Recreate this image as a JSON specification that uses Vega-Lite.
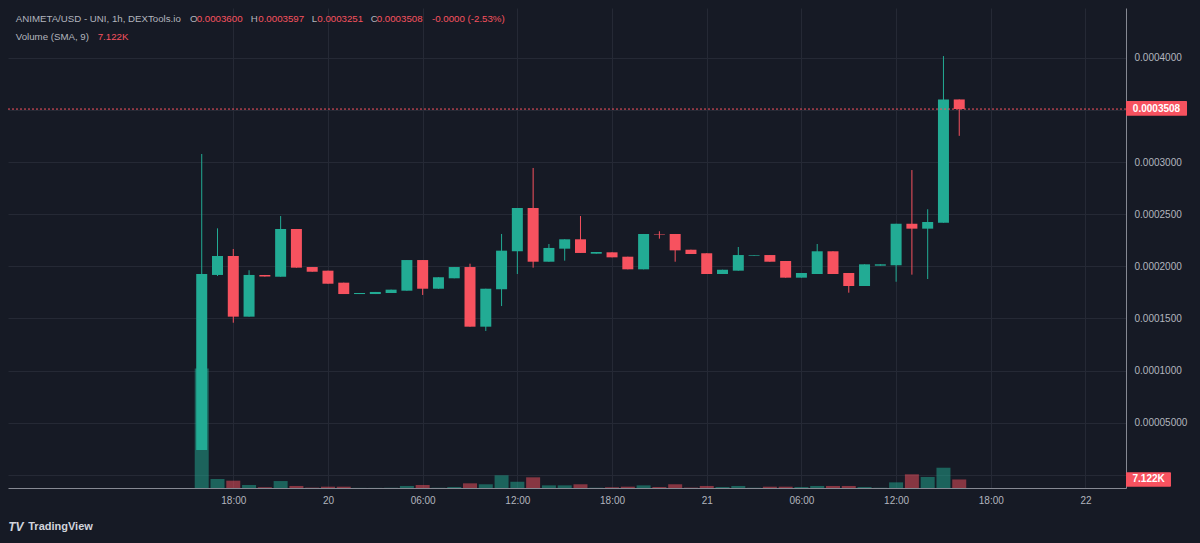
{
  "$schema": "https://vega.github.io/schema/vega-lite/v6.json",
  "width": 1118,
  "height": 480,
  "autosize": {"type": "none"},
  "padding": {"left": 8, "top": 8, "right": 74, "bottom": 55},
  "background": "#161a25",
  "config": {
    "view": {"stroke": null},
    "scale": {"continuousPadding": 0},
    "axis": {"labelFont": "Liberation Sans", "labelFontSize": 10, "labelColor": "#b2b5be", "gridColor": "#252935", "gridWidth": 1, "domainColor": "#868993", "domainWidth": 1, "ticks": false},
    "text": {"font": "Liberation Sans"}
  },
  "datasets": {
    "candles": [
      {"t": "2023-11-19T16:00:00Z", "o": 0.0000239, "h": 0.0003077, "l": 0.0000239, "c": 0.0001926, "v": 99500},
      {"t": "2023-11-19T17:00:00Z", "o": 0.0001917, "h": 0.0002364, "l": 0.0001907, "c": 0.0002099, "v": 7500},
      {"t": "2023-11-19T18:00:00Z", "o": 0.0002099, "h": 0.0002166, "l": 0.0001459, "c": 0.0001517, "v": 6100},
      {"t": "2023-11-19T19:00:00Z", "o": 0.0001517, "h": 0.0001962, "l": 0.0001517, "c": 0.0001917, "v": 2500},
      {"t": "2023-11-19T20:00:00Z", "o": 0.0001917, "h": 0.0001917, "l": 0.0001902, "c": 0.0001902, "v": 600},
      {"t": "2023-11-19T21:00:00Z", "o": 0.0001900, "h": 0.0002482, "l": 0.0001900, "c": 0.0002358, "v": 5800},
      {"t": "2023-11-19T22:00:00Z", "o": 0.0002358, "h": 0.0002358, "l": 0.0001987, "c": 0.0001987, "v": 1700},
      {"t": "2023-11-19T23:00:00Z", "o": 0.0001993, "h": 0.0001993, "l": 0.0001948, "c": 0.0001948, "v": 300},
      {"t": "2023-11-20T00:00:00Z", "o": 0.0001958, "h": 0.0001958, "l": 0.0001833, "c": 0.0001833, "v": 1100},
      {"t": "2023-11-20T01:00:00Z", "o": 0.0001843, "h": 0.0001843, "l": 0.0001734, "c": 0.0001734, "v": 1100},
      {"t": "2023-11-20T02:00:00Z", "o": 0.0001734, "h": 0.0001744, "l": 0.0001734, "c": 0.0001744, "v": 100},
      {"t": "2023-11-20T03:00:00Z", "o": 0.0001734, "h": 0.0001754, "l": 0.0001734, "c": 0.0001754, "v": 100},
      {"t": "2023-11-20T04:00:00Z", "o": 0.0001744, "h": 0.0001776, "l": 0.0001744, "c": 0.0001776, "v": 200},
      {"t": "2023-11-20T05:00:00Z", "o": 0.0001766, "h": 0.0002060, "l": 0.0001766, "c": 0.0002060, "v": 1700},
      {"t": "2023-11-20T06:00:00Z", "o": 0.0002060, "h": 0.0002060, "l": 0.0001725, "c": 0.0001785, "v": 2500},
      {"t": "2023-11-20T07:00:00Z", "o": 0.0001785, "h": 0.0001895, "l": 0.0001785, "c": 0.0001895, "v": 200},
      {"t": "2023-11-20T08:00:00Z", "o": 0.0001885, "h": 0.0001993, "l": 0.0001885, "c": 0.0001993, "v": 800},
      {"t": "2023-11-20T09:00:00Z", "o": 0.0001993, "h": 0.0002025, "l": 0.0001421, "c": 0.0001421, "v": 3900},
      {"t": "2023-11-20T10:00:00Z", "o": 0.0001421, "h": 0.0001785, "l": 0.0001380, "c": 0.0001785, "v": 3100},
      {"t": "2023-11-20T11:00:00Z", "o": 0.0001780, "h": 0.0002310, "l": 0.0001619, "c": 0.0002150, "v": 10600},
      {"t": "2023-11-20T12:00:00Z", "o": 0.0002144, "h": 0.0002559, "l": 0.0001926, "c": 0.0002559, "v": 5300},
      {"t": "2023-11-20T13:00:00Z", "o": 0.0002559, "h": 0.0002943, "l": 0.0001987, "c": 0.0002044, "v": 8900},
      {"t": "2023-11-20T14:00:00Z", "o": 0.0002044, "h": 0.0002214, "l": 0.0002044, "c": 0.0002176, "v": 2200},
      {"t": "2023-11-20T15:00:00Z", "o": 0.0002169, "h": 0.0002259, "l": 0.0002054, "c": 0.0002259, "v": 2200},
      {"t": "2023-11-20T16:00:00Z", "o": 0.0002259, "h": 0.0002482, "l": 0.0002128, "c": 0.0002128, "v": 3100},
      {"t": "2023-11-20T17:00:00Z", "o": 0.0002121, "h": 0.0002137, "l": 0.0002121, "c": 0.0002137, "v": 200},
      {"t": "2023-11-20T18:00:00Z", "o": 0.0002134, "h": 0.0002134, "l": 0.0002086, "c": 0.0002086, "v": 600},
      {"t": "2023-11-20T19:00:00Z", "o": 0.0002092, "h": 0.0002092, "l": 0.0001971, "c": 0.0001971, "v": 1100},
      {"t": "2023-11-20T20:00:00Z", "o": 0.0001971, "h": 0.0002310, "l": 0.0001971, "c": 0.0002310, "v": 2200},
      {"t": "2023-11-20T21:00:00Z", "o": 0.0002310, "h": 0.0002336, "l": 0.0002265, "c": 0.0002305, "v": 800},
      {"t": "2023-11-20T22:00:00Z", "o": 0.0002310, "h": 0.0002310, "l": 0.0002044, "c": 0.0002153, "v": 3100},
      {"t": "2023-11-20T23:00:00Z", "o": 0.0002159, "h": 0.0002159, "l": 0.0002118, "c": 0.0002118, "v": 300},
      {"t": "2023-11-21T00:00:00Z", "o": 0.0002125, "h": 0.0002125, "l": 0.0001926, "c": 0.0001926, "v": 1700},
      {"t": "2023-11-21T01:00:00Z", "o": 0.0001926, "h": 0.0001967, "l": 0.0001926, "c": 0.0001967, "v": 800},
      {"t": "2023-11-21T02:00:00Z", "o": 0.0001958, "h": 0.0002185, "l": 0.0001958, "c": 0.0002108, "v": 1700},
      {"t": "2023-11-21T03:00:00Z", "o": 0.0002102, "h": 0.0002108, "l": 0.0002102, "c": 0.0002108, "v": 200},
      {"t": "2023-11-21T04:00:00Z", "o": 0.0002108, "h": 0.0002108, "l": 0.0002044, "c": 0.0002044, "v": 1100},
      {"t": "2023-11-21T05:00:00Z", "o": 0.0002051, "h": 0.0002051, "l": 0.0001891, "c": 0.0001891, "v": 1100},
      {"t": "2023-11-21T06:00:00Z", "o": 0.0001891, "h": 0.0001936, "l": 0.0001891, "c": 0.0001936, "v": 800},
      {"t": "2023-11-21T07:00:00Z", "o": 0.0001926, "h": 0.0002214, "l": 0.0001926, "c": 0.0002144, "v": 1700},
      {"t": "2023-11-21T08:00:00Z", "o": 0.0002144, "h": 0.0002144, "l": 0.0001926, "c": 0.0001926, "v": 1700},
      {"t": "2023-11-21T09:00:00Z", "o": 0.0001936, "h": 0.0001936, "l": 0.0001747, "c": 0.0001811, "v": 1700},
      {"t": "2023-11-21T10:00:00Z", "o": 0.0001811, "h": 0.0002019, "l": 0.0001811, "c": 0.0002019, "v": 800},
      {"t": "2023-11-21T11:00:00Z", "o": 0.0002006, "h": 0.0002019, "l": 0.0002006, "c": 0.0002019, "v": 200},
      {"t": "2023-11-21T12:00:00Z", "o": 0.0002010, "h": 0.0002408, "l": 0.0001852, "c": 0.0002408, "v": 4700},
      {"t": "2023-11-21T13:00:00Z", "o": 0.0002408, "h": 0.0002923, "l": 0.0001920, "c": 0.0002361, "v": 11400},
      {"t": "2023-11-21T14:00:00Z", "o": 0.0002361, "h": 0.0002547, "l": 0.0001878, "c": 0.0002425, "v": 9200},
      {"t": "2023-11-21T15:00:00Z", "o": 0.0002418, "h": 0.0004016, "l": 0.0002418, "c": 0.0003600, "v": 16900},
      {"t": "2023-11-21T16:00:00Z", "o": 0.0003600, "h": 0.0003600, "l": 0.0003251, "c": 0.0003508, "v": 7122}
    ],
    "legend": [
      {"t": "2023-11-19T04:13:00Z", "p": 0.0004371, "text": "ANIMETA/USD - UNI, 1h, DEXTools.io", "kind": "label"},
      {"t": "2023-11-19T15:15:30Z", "p": 0.0004371, "text": "O", "kind": "label"},
      {"t": "2023-11-19T15:41:00Z", "p": 0.0004371, "text": "0.0003600", "kind": "value"},
      {"t": "2023-11-19T19:06:00Z", "p": 0.0004371, "text": "H", "kind": "label"},
      {"t": "2023-11-19T19:35:00Z", "p": 0.0004371, "text": "0.0003597", "kind": "value"},
      {"t": "2023-11-19T22:58:00Z", "p": 0.0004371, "text": "L", "kind": "label"},
      {"t": "2023-11-19T23:19:30Z", "p": 0.0004371, "text": "0.0003251", "kind": "value"},
      {"t": "2023-11-20T02:42:30Z", "p": 0.0004371, "text": "C", "kind": "label"},
      {"t": "2023-11-20T03:05:30Z", "p": 0.0004371, "text": "0.0003508", "kind": "value"},
      {"t": "2023-11-20T06:35:30Z", "p": 0.0004371, "text": "-0.0000 (-2.53%)", "kind": "value"},
      {"t": "2023-11-19T04:13:00Z", "p": 0.0004198, "text": "Volume (SMA, 9)", "kind": "label"},
      {"t": "2023-11-19T09:24:30Z", "p": 0.0004198, "text": "7.122K", "kind": "value"},
      {"t": "2023-11-19T05:00:30Z", "p": -0.00004995, "text": "TradingView", "kind": "brand"},
      {"t": "2023-11-19T03:44:00Z", "p": -0.00004995, "text": "TV", "kind": "logo"}
    ],
    "tags": [
      {"t": "2023-11-22T02:34:00Z", "t2": "2023-11-22T06:26:00Z", "tc": "2023-11-22T04:30:00Z", "hi": 0.0003585, "lo": 0.0003444, "p": 0.0003508, "text": "0.0003508"},
      {"t": "2023-11-22T02:34:00Z", "t2": "2023-11-22T05:25:00Z", "tc": "2023-11-22T04:00:00Z", "hi": 0.0000025, "lo": -0.0000113, "p": -0.0000044, "text": "7.122K"}
    ],
    "one": [{"p": 0.0003508}]
  },
  "layer": [
    {
      "data": {"name": "candles"},
      "mark": {"type": "bar", "size": 14, "opacity": 0.5},
      "encoding": {
        "x": {"field": "t", "type": "temporal", "title": null, "scale": {"type": "utc", "padding": 0, "domain": [{"year": 2023, "month": 11, "date": 19, "hours": 3, "minutes": 43, "seconds": 30, "utc": true}, {"year": 2023, "month": 11, "date": 22, "hours": 2, "minutes": 34, "utc": true}]}},
        "y": {"field": "v", "type": "quantitative", "title": null, "scale": {"domain": [0, 400000], "nice": false, "zero": true}, "axis": null},
        "color": {"condition": {"test": "datum.c >= datum.o", "value": "#22ab94"}, "value": "#f7525f"}
      }
    },
    {
      "data": {"name": "candles"},
      "mark": {"type": "rule", "strokeWidth": 1},
      "encoding": {
        "x": {"field": "t", "type": "temporal", "title": null, "scale": {"type": "utc", "padding": 0, "domain": [{"year": 2023, "month": 11, "date": 19, "hours": 3, "minutes": 43, "seconds": 30, "utc": true}, {"year": 2023, "month": 11, "date": 22, "hours": 2, "minutes": 34, "utc": true}]}},
        "y": {"field": "l", "type": "quantitative", "scale": {"domain": [-0.0000126, 0.0004477], "nice": false, "zero": false}, "axis": null},
        "y2": {"field": "h"},
        "color": {"condition": {"test": "datum.c >= datum.o", "value": "#22ab94"}, "value": "#f7525f"}
      }
    },
    {
      "data": {"name": "candles"},
      "mark": {"type": "bar", "size": 11},
      "encoding": {
        "x": {"field": "t", "type": "temporal", "title": null,
          "scale": {"type": "utc", "padding": 0, "domain": [{"year": 2023, "month": 11, "date": 19, "hours": 3, "minutes": 43, "seconds": 30, "utc": true}, {"year": 2023, "month": 11, "date": 22, "hours": 2, "minutes": 34, "utc": true}]},
          "axis": {
            "values": [
              {"year": 2023, "month": 11, "date": 19, "hours": 18, "utc": true},
              {"year": 2023, "month": 11, "date": 20, "hours": 0, "utc": true},
              {"year": 2023, "month": 11, "date": 20, "hours": 6, "utc": true},
              {"year": 2023, "month": 11, "date": 20, "hours": 12, "utc": true},
              {"year": 2023, "month": 11, "date": 20, "hours": 18, "utc": true},
              {"year": 2023, "month": 11, "date": 21, "hours": 0, "utc": true},
              {"year": 2023, "month": 11, "date": 21, "hours": 6, "utc": true},
              {"year": 2023, "month": 11, "date": 21, "hours": 12, "utc": true},
              {"year": 2023, "month": 11, "date": 21, "hours": 18, "utc": true},
              {"year": 2023, "month": 11, "date": 22, "hours": 0, "utc": true}
            ],
            "labelExpr": "utchours(datum.value) == 0 ? utcFormat(datum.value, '%d') : utcFormat(datum.value, '%H:%M')",
            "grid": true, "labelPadding": 7, "labelFlush": false, "labelOverlap": false
          }
        },
        "y": {"field": "o", "type": "quantitative", "title": null, "scale": {"domain": [-0.0000126, 0.0004477], "nice": false, "zero": false},
          "axis": {"orient": "right", "values": [0, 0.00005, 0.0001, 0.00015, 0.0002, 0.00025, 0.0003, 0.00035, 0.0004],
            "labelExpr": "datum.value == 0 ? '' : (abs(datum.value - 0.00035) < 1e-9 ? '' : (abs(datum.value - 0.00005) < 1e-9 ? '0.00005000' : format(datum.value, '.7f')))",
            "labelPadding": 8, "labelAlign": "left", "grid": true, "labelFlush": false, "labelOverlap": false}},
        "y2": {"field": "c"},
        "color": {"condition": {"test": "datum.c >= datum.o", "value": "#22ab94"}, "value": "#f7525f"}
      }
    },
    {
      "data": {"name": "one"},
      "mark": {"type": "rule", "color": "#f7525f", "strokeWidth": 1, "strokeDash": [2, 2]},
      "encoding": {
        "y": {"field": "p", "type": "quantitative", "scale": {"domain": [-0.0000126, 0.0004477], "nice": false, "zero": false}, "axis": null}
      }
    },
    {
      "data": {"name": "legend"},
      "transform": [{"filter": "datum.kind == 'label'"}],
      "mark": {"type": "text", "align": "left", "baseline": "middle", "fontSize": 9.7, "color": "#b2b5be"},
      "encoding": {
        "x": {"field": "t", "type": "temporal", "title": null, "scale": {"type": "utc", "padding": 0, "domain": [{"year": 2023, "month": 11, "date": 19, "hours": 3, "minutes": 43, "seconds": 30, "utc": true}, {"year": 2023, "month": 11, "date": 22, "hours": 2, "minutes": 34, "utc": true}]}},
        "y": {"field": "p", "type": "quantitative", "scale": {"domain": [-0.0000126, 0.0004477], "nice": false, "zero": false}, "axis": null},
        "text": {"field": "text"}
      }
    },
    {
      "data": {"name": "legend"},
      "transform": [{"filter": "datum.kind == 'value'"}],
      "mark": {"type": "text", "align": "left", "baseline": "middle", "fontSize": 9.7, "color": "#f7525f"},
      "encoding": {
        "x": {"field": "t", "type": "temporal", "title": null, "scale": {"type": "utc", "padding": 0, "domain": [{"year": 2023, "month": 11, "date": 19, "hours": 3, "minutes": 43, "seconds": 30, "utc": true}, {"year": 2023, "month": 11, "date": 22, "hours": 2, "minutes": 34, "utc": true}]}},
        "y": {"field": "p", "type": "quantitative", "scale": {"domain": [-0.0000126, 0.0004477], "nice": false, "zero": false}, "axis": null},
        "text": {"field": "text"}
      }
    },
    {
      "data": {"name": "legend"},
      "transform": [{"filter": "datum.kind == 'brand'"}],
      "mark": {"type": "text", "align": "left", "baseline": "middle", "fontSize": 11, "fontWeight": "bold", "color": "#d1d4dc"},
      "encoding": {
        "x": {"field": "t", "type": "temporal", "title": null, "scale": {"type": "utc", "padding": 0, "domain": [{"year": 2023, "month": 11, "date": 19, "hours": 3, "minutes": 43, "seconds": 30, "utc": true}, {"year": 2023, "month": 11, "date": 22, "hours": 2, "minutes": 34, "utc": true}]}},
        "y": {"field": "p", "type": "quantitative", "scale": {"domain": [-0.0000126, 0.0004477], "nice": false, "zero": false}, "axis": null},
        "text": {"field": "text"}
      }
    },
    {
      "data": {"name": "legend"},
      "transform": [{"filter": "datum.kind == 'logo'"}],
      "mark": {"type": "text", "align": "left", "baseline": "middle", "fontSize": 12, "fontWeight": 900, "fontStyle": "italic", "color": "#d1d4dc"},
      "encoding": {
        "x": {"field": "t", "type": "temporal", "title": null, "scale": {"type": "utc", "padding": 0, "domain": [{"year": 2023, "month": 11, "date": 19, "hours": 3, "minutes": 43, "seconds": 30, "utc": true}, {"year": 2023, "month": 11, "date": 22, "hours": 2, "minutes": 34, "utc": true}]}},
        "y": {"field": "p", "type": "quantitative", "scale": {"domain": [-0.0000126, 0.0004477], "nice": false, "zero": false}, "axis": null},
        "text": {"field": "text"}
      }
    },
    {
      "data": {"name": "tags"},
      "mark": {"type": "rect", "color": "#f7525f", "cornerRadius": 1},
      "encoding": {
        "x": {"field": "t", "type": "temporal", "title": null, "scale": {"type": "utc", "padding": 0, "domain": [{"year": 2023, "month": 11, "date": 19, "hours": 3, "minutes": 43, "seconds": 30, "utc": true}, {"year": 2023, "month": 11, "date": 22, "hours": 2, "minutes": 34, "utc": true}]}},
        "x2": {"field": "t2"},
        "y": {"field": "lo", "type": "quantitative", "scale": {"domain": [-0.0000126, 0.0004477], "nice": false, "zero": false}, "axis": null},
        "y2": {"field": "hi"}
      }
    },
    {
      "data": {"name": "tags"},
      "mark": {"type": "text", "align": "center", "baseline": "middle", "fontSize": 10, "fontWeight": "bold", "color": "#ffffff"},
      "encoding": {
        "x": {"field": "tc", "type": "temporal", "title": null, "scale": {"type": "utc", "padding": 0, "domain": [{"year": 2023, "month": 11, "date": 19, "hours": 3, "minutes": 43, "seconds": 30, "utc": true}, {"year": 2023, "month": 11, "date": 22, "hours": 2, "minutes": 34, "utc": true}]}},
        "y": {"field": "p", "type": "quantitative", "scale": {"domain": [-0.0000126, 0.0004477], "nice": false, "zero": false}, "axis": null},
        "text": {"field": "text"}
      }
    }
  ],
  "resolve": {"scale": {"y": "independent"}, "axis": {"y": "independent", "x": "shared"}}
}
